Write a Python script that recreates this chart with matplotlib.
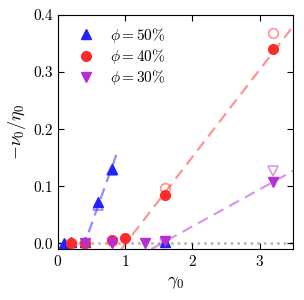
import numpy as np
import matplotlib.pyplot as plt

plt.rcParams['font.family'] = 'serif'
plt.rcParams['font.serif'] = ['cmr10']
plt.rcParams['mathtext.fontset'] = 'cm'
plt.rcParams['axes.formatter.use_mathtext'] = True
plt.rcParams['font.size'] = 11

# datos
g50 = [0.1, 0.2, 0.4, 0.6, 0.8, 1.6]
v50 = [0.0, 0.003, 0.003, 0.072, 0.131, 0.003]
g50_open = [0.6, 0.8]
v50_open = [0.067, 0.128]

g40 = [0.2, 0.4, 0.8, 1.0, 1.6, 3.2]
v40 = [0.0, 0.0, 0.005, 0.01, 0.085, 0.341]
g40_open = [0.2, 0.4, 0.8, 1.6, 3.2]
v40_open = [0.0, 0.0, 0.004, 0.097, 0.368]

g30 = [0.4, 0.8, 1.3, 1.6, 3.2]
v30 = [0.0, 0.0, 0.0, 0.004, 0.108]
g30_open = [1.6, 3.2]
v30_open = [0.0, 0.127]

# ajustes lineales (pendiente, gamma de corte, gamma maximo)
fit50 = (0.33, 0.40, 0.89)
fit40 = (0.153, 1.011, 3.5)
fit30 = (0.065, 1.545, 3.5)

c50 = '#2222ff'
c40 = '#ff2a2a'
c30 = '#b52fd4'

fig, ax = plt.subplots(figsize=(3.04, 3.0), dpi=100)

ax.axhline(0, color='gray', ls=':', lw=1.8, alpha=0.6, zorder=1)

for (m, g0, gmax), c in [(fit50, c50), (fit40, c40), (fit30, c30)]:
    x0 = g0 - 0.01 / m
    x = np.linspace(x0, gmax, 50)
    ax.plot(x, m * (x - g0), '--', color=c, alpha=0.5, lw=1.6, dashes=(5, 3), zorder=2)

ax.plot(g50_open, v50_open, '^', mfc='none', mec=c50, alpha=0.5, ms=7, mew=1.2, zorder=3)
ax.plot(g40_open, v40_open, 'o', mfc='none', mec=c40, alpha=0.5, ms=7, mew=1.2, zorder=3)
ax.plot(g30_open, v30_open, 'v', mfc='none', mec=c30, alpha=0.5, ms=7, mew=1.2, zorder=3)

ax.plot(g50, v50, '^', color=c50, ms=7, ls='none', label=r'$\phi = 50\%$', zorder=4)
ax.plot(g40, v40, 'o', color=c40, ms=7, ls='none', label=r'$\phi = 40\%$', zorder=4)
ax.plot(g30, v30, 'v', color=c30, ms=7, ls='none', label=r'$\phi = 30\%$', zorder=4)

ax.set_xlim(0, 3.5)
ax.set_ylim(-0.01, 0.4)
ax.set_xticks([0, 1, 2, 3])
ax.set_yticks([0.0, 0.1, 0.2, 0.3, 0.4])
ax.set_yticklabels(['0.0', '0.1', '0.2', '0.3', '0.4'])
ax.tick_params(direction='in', top=True, right=True, length=4)
ax.set_xlabel(r'$\gamma_0$', fontsize=13)
ax.set_ylabel(r'$-\nu_0/\eta_0$', fontsize=13)
ax.legend(loc='upper left', bbox_to_anchor=(0.035, 1.0), frameon=False, fontsize=11,
          handlelength=1.2, handletextpad=1.0, labelspacing=0.15, borderpad=0.4,
          borderaxespad=0.3)

fig.subplots_adjust(left=0.19, right=0.965, top=0.95, bottom=0.17)
fig.savefig('out.png', dpi=100)
